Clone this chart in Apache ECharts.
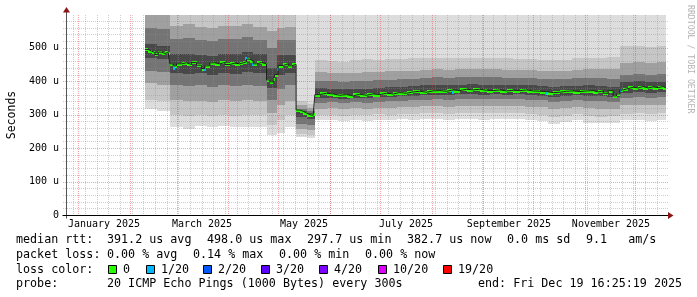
<!DOCTYPE html>
<html><head><meta charset="utf-8">
<script src="https://cdn.jsdelivr.net/npm/echarts@6/dist/echarts.min.js"></script>
<style>html,body{margin:0;padding:0;background:#fff;}#chart{width:697px;height:297px;}</style>
</head><body><div id="chart"></div>
<script>
// ---------------- data ----------------
const rangeStart = '2024-12-24T16:25';
const rangeEnd = '2025-12-19T16:25';
const yMax = 598;
const yTickValues = [0, 100, 200, 300, 400, 500];
const monthLabels = ['January 2025', 'March 2025', 'May 2025', 'July 2025', 'September 2025', 'November 2025'];
const monthLabelDates = ['2025-01-16T12:00', '2025-03-16T12:00', '2025-05-16T12:00', '2025-07-16T12:00', '2025-09-16T12:00', '2025-11-16T12:00'];
const monthStarts = ['2025-01-01', '2025-02-01', '2025-03-01', '2025-04-01', '2025-05-01', '2025-06-01', '2025-07-01', '2025-08-01', '2025-09-01', '2025-10-01', '2025-11-01', '2025-12-01'];

const medianDates = ['2025-02-10','2025-02-12','2025-02-14','2025-02-16','2025-02-18','2025-02-20','2025-02-22','2025-02-24',
 '2025-02-25','2025-02-27','2025-03-01','2025-03-04','2025-03-07','2025-03-10','2025-03-13','2025-03-16','2025-03-18','2025-03-21','2025-03-24','2025-03-27','2025-03-30','2025-04-02','2025-04-05','2025-04-08','2025-04-10','2025-04-12','2025-04-14','2025-04-16','2025-04-18','2025-04-21',
 '2025-04-24','2025-04-26','2025-04-28','2025-04-29','2025-05-01','2025-05-04','2025-05-07','2025-05-09',
 '2025-05-11T18:00','2025-05-14','2025-05-16','2025-05-18','2025-05-20','2025-05-22',
 '2025-05-23','2025-05-26','2025-05-30','2025-06-03','2025-06-07','2025-06-11','2025-06-15','2025-06-19','2025-06-23','2025-06-27','2025-07-01','2025-07-05','2025-07-09','2025-07-13','2025-07-17','2025-07-21','2025-07-25','2025-07-29','2025-08-02','2025-08-06','2025-08-10','2025-08-14','2025-08-18','2025-08-22','2025-08-26','2025-08-30','2025-09-03','2025-09-07','2025-09-11','2025-09-15','2025-09-19','2025-09-23','2025-09-27','2025-10-01','2025-10-05','2025-10-09','2025-10-13','2025-10-17','2025-10-21','2025-10-25','2025-10-29','2025-11-02','2025-11-06','2025-11-09','2025-11-12','2025-11-15','2025-11-18','2025-11-20','2025-11-22','2025-11-24','2025-11-27','2025-11-30','2025-12-03','2025-12-06','2025-12-09','2025-12-12','2025-12-15','2025-12-18'];
const medianValues = [495,490,486,480,487,483,486,484,
 452,446,452,455,450,456,448,438,446,455,452,456,450,454,452,455,458,466,461,452,456,452,
 404,398,408,420,447,452,446,450,
 314,310,305,300,298,302,
 360,364,362,358,360,356,361,358,362,360,364,362,366,364,368,370,367,371,372,370,374,372,376,374,376,373,372,374,371,373,372,374,371,370,369,366,367,370,371,369,371,372,368,371,364,372,356,362,374,378,382,380,384,380,383,381,384,380];

const lossDates = ['2025-02-26T20:00','2025-03-17T12:00','2025-04-11','2025-04-15','2025-04-30','2025-08-13','2025-10-08','2025-11-22'];
const lossValues = [439, 436, 470, 451, 437, 368, 366, 374];
const lossLevels = [1, 1, 1, 1, 1, 1, 1, 1];

const bandDates = ['2025-02-10','2025-02-17','2025-02-25','2025-03-05','2025-03-12','2025-03-19','2025-03-26','2025-04-02','2025-04-09','2025-04-16','2025-04-24','2025-04-30','2025-05-05',
 '2025-05-11T18:00','2025-05-18','2025-05-23','2025-05-30','2025-06-06','2025-06-13','2025-06-20','2025-06-27','2025-07-04','2025-07-11','2025-07-18','2025-07-25','2025-08-01','2025-08-08','2025-08-15','2025-08-22','2025-08-29','2025-09-05','2025-09-12','2025-09-19','2025-09-26','2025-10-03','2025-10-10','2025-10-17','2025-10-24','2025-10-31','2025-11-07','2025-11-14','2025-11-22','2025-11-30','2025-12-07','2025-12-14'];
const lo1 = [318,312,262,258,265,262,266,262,264,262,238,245,262, 232,230, 283,285,280,284,282,285,283,286,284,287,286,283,286,288,285,287,286,288,285,282,272,278,284,276,274,276, 283,285,282,284];
const lo2 = [345,340,298,295,300,296,300,297,300,298,270,285,298, 242,240, 298,300,296,300,298,302,300,303,302,305,304,302,305,306,304,306,304,306,303,300,292,297,302,296,294,295, 303,305,302,304];
const lo3 = [395,390,345,340,342,338,344,340,345,342,305,330,342, 256,254, 318,320,316,320,318,321,320,323,322,325,325,323,326,327,325,326,325,327,324,322,316,320,323,320,318,318, 328,330,328,330];
const lo4 = [430,428,390,385,388,384,388,386,390,386,345,378,388, 272,270, 336,338,335,338,336,339,340,342,343,345,346,345,347,348,346,347,346,347,345,343,338,342,344,342,340,338, 350,352,350,352];
const lo5 = [468,465,425,422,424,420,425,423,428,424,380,418,424, 292,288, 350,350,348,350,349,352,354,355,357,359,360,360,361,362,360,361,360,361,359,357,354,357,358,357,355,352, 366,368,366,367];
const hi5 = [510,505,480,482,478,476,480,482,488,480,440,478,478, 310,305, 380,378,376,378,378,380,382,384,386,388,390,389,390,391,390,390,389,389,388,386,384,386,387,388,386,384, 398,400,398,399];
const hi4 = [560,555,525,528,522,520,525,526,532,524,500,522,522, 318,312, 402,400,398,400,402,403,404,406,408,410,412,411,412,413,412,412,411,410,410,408,406,408,410,410,410,408, 420,422,420,421];
const hi3 = [598,598,565,570,562,560,566,565,570,562,550,560,562, 328,320, 428,425,424,426,428,428,430,430,432,434,436,435,436,437,436,436,434,434,433,432,430,432,434,436,436,436, 455,456,455,456];
const hi2 = [598,598,598,598,598,598,598,598,598,598,598,598,598, 340,332, 462,460,458,462,465,462,466,465,468,468,470,468,470,470,468,470,468,466,465,464,462,464,468,470,470,472, 505,505,502,504];
const hi1 = [598,598,598,598,598,598,598,598,598,598,598,598,598, 598,598, 598,598,598,598,598,598,598,598,598,598,598,598,598,598,598,598,598,598,598,598,598,598,598,598,598,598, 598,598,598,598];

const lossLegendLabels = ['0', '1/20', '2/20', '3/20', '4/20', '10/20', '19/20'];
const lossLegendColors = ['#26ff00', '#00b8ff', '#0059ff', '#5e00ff', '#7e00ff', '#dd00ff', '#ff0000'];
const rttLine = ['median rtt:', '391.2 us avg', '498.0 us max', '297.7 us min', '382.7 us now', '0.0 ms sd', '9.1   am/s'];
const lossLine = ['packet loss:', '0.00 % avg', '0.14 % max', '0.00 % min', '0.00 % now'];
const probeLine = ['probe:', '20 ICMP Echo Pings (1000 Bytes) every 300s', 'end: Fri Dec 19 16:25:19 2025'];
const lossColorTitle = 'loss color:';
const yAxisTitle = 'Seconds';
const watermark = 'RRDTOOL / TOBI OETIKER';

// ---------------- helpers ----------------
const T = s => Date.parse(s.length <= 10 ? s + 'T00:00:00Z' : s + ':00Z');
const tStart = T(rangeStart), tEnd = T(rangeEnd);
const MONO = '"DejaVu Sans Mono", monospace';
const bandColors = ['#dddddd', '#c6c6c6', '#a0a0a0', '#747474', '#484848'];
const los = [lo1, lo2, lo3, lo4, lo5], his = [hi1, hi2, hi3, hi4, hi5];

function bandData(k) {
  return bandDates.map((d, i) => [T(d), i + 1 < bandDates.length ? T(bandDates[i + 1]) : tEnd, los[k][i], his[k][i]]);
}
function rectRender(color) {
  return function (params, api) {
    const a = api.coord([api.value(0), api.value(3)]);
    const b = api.coord([api.value(1), api.value(2)]);
    const x0 = Math.round(a[0]), x1 = Math.round(b[0]);
    const y0 = Math.round(a[1]), y1 = Math.round(b[1]);
    return { type: 'rect', shape: { x: x0, y: y0, width: x1 - x0, height: y1 - y0 }, style: { fill: color } };
  };
}

// grid lines (non-data decoration)
const hGrid = [];
for (let v = 20; v < yMax; v += 20) hGrid.push([tStart, v, v % 100 === 0 ? 1 : 0]);
const vGrid = [];
for (let t = T('2024-12-29'); t <= tEnd; t += 7 * 86400000) vGrid.push([t, 0, 0]);
monthStarts.forEach(d => vGrid.push([T(d), 0, 1]));
const gridColors = ['rgba(140,140,140,0.42)', 'rgba(225,60,60,0.45)'];

const medSeg = medianDates.map((d, i) => [T(d), i + 1 < medianDates.length ? T(medianDates[i + 1]) : tEnd, medianValues[i]]);
const medLine = medianDates.map((d, i) => [T(d), medianValues[i]]);
medLine.push([tEnd, medianValues[medianValues.length - 1]]);
const lossPts = lossDates.map((d, i) => [T(d), lossValues[i], lossLevels[i]]);

const series = [];
for (let k = 0; k < 5; k++) {
  series.push({ type: 'custom', name: 'smoke' + k, data: bandData(k), renderItem: rectRender(bandColors[k]), clip: true, silent: true });
}
series.push({
  type: 'custom', name: 'hgrid', data: hGrid, clip: false, silent: true,
  renderItem: (params, api) => {
    const cs = params.coordSys;
    const y = Math.round(api.coord([api.value(0), api.value(1)])[1]) + 0.5;
    return { type: 'line', shape: { x1: cs.x - 3, y1: y, x2: cs.x + cs.width + 2, y2: y },
      style: { stroke: gridColors[api.value(2)], lineWidth: 1, lineDash: [1, 1] } };
  }
});
series.push({
  type: 'custom', name: 'vgrid', data: vGrid, clip: false, silent: true,
  renderItem: (params, api) => {
    const cs = params.coordSys;
    const x = Math.round(api.coord([api.value(0), 0])[0]) + 0.5;
    return { type: 'line', shape: { x1: x, y1: cs.y, x2: x, y2: cs.y + cs.height + 2 },
      style: { stroke: gridColors[api.value(2)], lineWidth: 1, lineDash: [1, 1] } };
  }
});
series.push({ type: 'line', name: 'median', data: medLine, step: 'end', showSymbol: false, symbol: 'none',
  lineStyle: { color: '#202020', width: 1 }, silent: true, clip: true });
series.push({
  type: 'custom', name: 'medianLoss', data: medSeg, clip: true, silent: true,
  renderItem: (params, api) => {
    const a = api.coord([api.value(0), api.value(2)]);
    const b = api.coord([api.value(1), api.value(2)]);
    const x0 = Math.round(a[0]), x1 = Math.round(b[0]);
    const y = Math.round(a[1]);
    return { type: 'rect', shape: { x: x0, y: y - 1, width: x1 - x0, height: 3 }, style: { fill: lossLegendColors[0] } };
  }
});
series.push({
  type: 'custom', name: 'lossPts', data: lossPts, clip: true, silent: true,
  renderItem: (params, api) => {
    const a = api.coord([api.value(0), api.value(1)]);
    return { type: 'rect', shape: { x: Math.round(a[0]), y: Math.round(a[1]) - 1, width: 2, height: 3 }, style: { fill: lossLegendColors[api.value(2)] } };
  }
});
// axes frame with arrows
series.push({
  type: 'custom', name: 'frame', data: [[tStart, 0]], clip: false, silent: true,
  renderItem: (params, api) => {
    const cs = params.coordSys;
    const x0 = Math.round(cs.x) + 0.5, yb = Math.round(cs.y + cs.height) + 0.5, yt = cs.y, xr = cs.x + cs.width;
    return { type: 'group', children: [
      { type: 'line', shape: { x1: x0, y1: yb + 3, x2: x0, y2: yt - 4 }, style: { stroke: '#555', lineWidth: 1 } },
      { type: 'line', shape: { x1: x0 - 4, y1: yb, x2: xr + 3, y2: yb }, style: { stroke: '#000', lineWidth: 1 } },
      { type: 'polygon', shape: { points: [[x0 - 3.5, yt - 2.5], [x0 + 3.5, yt - 2.5], [x0, yt - 8]] }, style: { fill: '#8b1414' } },
      { type: 'polygon', shape: { points: [[xr + 2, yb - 3.5], [xr + 2, yb + 3.5], [xr + 7.5, yb]] }, style: { fill: '#8b1414' } }
    ] };
  }
});
// month labels
series.push({
  type: 'custom', name: 'xlabels', data: monthLabelDates.map((d, i) => [T(d), 0, i]), clip: false, silent: true,
  renderItem: (params, api) => {
    const p = api.coord([api.value(0), 0]);
    return { type: 'text', x: Math.round(p[0]), y: p[1] + 4,
      style: { text: monthLabels[api.value(2)], fill: '#000', font: '10px ' + MONO, align: 'center', verticalAlign: 'top', textAlign: 'center', textVerticalAlign: 'top' } };
  }
});

// legend / stats text (graphic)
const graphic = [];
function txt(x, y, s, extra) {
  graphic.push(Object.assign({ type: 'text', x: x, y: y, silent: true,
    style: { text: s, fill: '#000', font: '11.7px ' + MONO, textAlign: 'left', textVerticalAlign: 'middle', align: 'left', verticalAlign: 'middle' } }, extra || {}));
}
const rttX = [16, 107, 207, 307, 407, 507, 586];
rttLine.forEach((s, i) => txt(rttX[i], 240, s));
const lossX = [16, 107, 193, 279, 365];
lossLine.forEach((s, i) => txt(lossX[i], 255, s));
txt(16, 269.5, lossColorTitle);
const boxX = [108, 146, 203, 261, 319, 378, 443];
lossLegendLabels.forEach((s, i) => {
  graphic.push({ type: 'rect', x: boxX[i] + 0.5, y: 265.5, shape: { x: 0, y: 0, width: 8, height: 8 }, style: { fill: lossLegendColors[i], stroke: '#000', lineWidth: 1 }, silent: true });
  txt(boxX[i] + 15, 269.5, s);
});
const probeX = [16, 107, 478];
probeLine.forEach((s, i) => txt(probeX[i], 284, s));
graphic.push({ type: 'text', x: 690, y: 5, rotation: -Math.PI / 2, silent: true,
  style: { text: watermark, fill: '#b4b4b4', font: '8.2px ' + MONO, textAlign: 'left', textVerticalAlign: 'middle', align: 'left', verticalAlign: 'middle' } });

const option = {
  animation: false,
  backgroundColor: '#ffffff',
  grid: { left: 66, top: 15, width: 600, height: 200, containLabel: false, outerBoundsMode: 'none' },
  xAxis: { type: 'time', min: tStart, max: tEnd, axisLabel: { show: false }, axisLine: { show: false }, axisTick: { show: false }, splitLine: { show: false } },
  yAxis: {
    type: 'value', min: 0, max: yMax, interval: 100,
    name: yAxisTitle, nameLocation: 'middle', nameGap: 47, nameRotate: 90,
    nameTextStyle: { fontFamily: MONO, fontSize: 11.5, color: '#000' },
    axisLine: { show: false }, axisTick: { show: false }, splitLine: { show: false },
    axisLabel: { showMaxLabel: false, margin: 7, fontFamily: MONO, fontSize: 10, color: '#000',
      formatter: v => (yTickValues.indexOf(v) >= 0 ? (v === 0 ? '0' : v + ' u') : '') }
  },
  graphic: graphic,
  series: series
};
const chart = echarts.init(document.getElementById('chart'), null, { renderer: 'canvas' });
chart.setOption(option);
</script>
</body></html>
